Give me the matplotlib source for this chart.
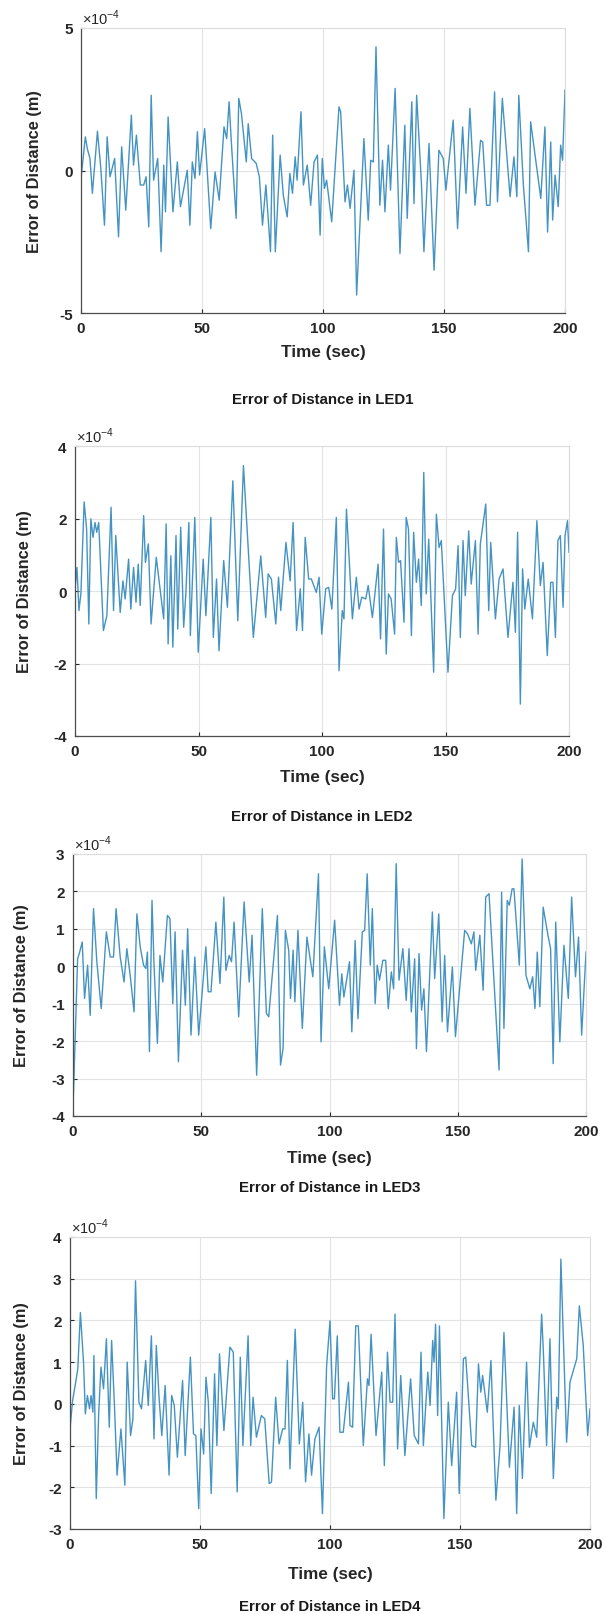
"""Error of distance for LED1..LED4, four stacked panels (MATLAB-like style)."""
import numpy as np
import matplotlib
matplotlib.use("Agg")
import matplotlib.pyplot as plt

plt.rcParams["font.family"] = ["Liberation Sans", "DejaVu Sans"]
plt.rcParams["mathtext.fontset"] = "custom"
plt.rcParams["mathtext.rm"] = "Liberation Sans"
plt.rcParams["axes.unicode_minus"] = False

W, H, DPI = 603, 1615, 100
LINE = "#4593c2"

# values are in units of 1e-4 m (axis shows x10^-4)
t_led1 = [0, 1.8, 2.6, 3.7, 4.7, 6.8, 8.2, 9.7, 10.8, 12, 13.9, 15.5, 16.8, 18.5, 20.8, 21.7, 22.9,
          24.5, 25.9, 26.9, 28, 29, 30, 31.7, 33.1, 34.2, 34.9, 36, 38, 39.8, 41.1, 43.9, 45, 46,
          47.1, 48.1, 49, 51.1, 53.6, 55.4, 57.1, 59.1, 60.2, 61.2, 62.2, 64.1, 65.2, 66.3, 68.3,
          69.1, 70.5, 72.4, 73.7, 75, 76.4, 78.3, 79.2, 80.3, 82.3, 83.6, 85.2, 86.3, 87.4, 88.5,
          89.3, 90.9, 91.9, 93.5, 94.9, 96.3, 97.7, 98.8, 99.7, 100.6, 101.5, 103.6, 106.6, 107.3,
          109.1, 110.1, 111.2, 112.8, 113.9, 116.9, 118.7, 119.7, 120.8, 121.9, 123.5, 124.6, 125.6,
          127, 127.9, 129.8, 131.8, 133.8, 134.8, 136.7, 137.6, 138.7, 140.7, 141.7, 143.8, 145.9,
          147.9, 149.7, 150.8, 153.8, 155.6, 157.7, 159.1, 160.7, 162.8, 165.1, 166, 167.6, 169,
          170.9, 172.1, 174.1, 177.3, 178.9, 180.1, 180.9, 182.8, 184.9, 185.8, 190, 191.7, 192.8,
          194.1, 194.9, 195.9, 197.2, 198.2, 199, 200]
e_led1 = [-0.28, 1.18, 0.77, 0.42, -0.8, 1.38, 0.07, -1.92, 1.18, -0.22, 0.42, -2.33, 0.83, -1.39,
          1.94, 0.19, 1.24, -0.51, -0.51, -0.22, -1.98, 2.64, -0.34, 0.42, -2.85, 0.19, -1.45, 1.88,
          -1.45, 0.30, -1.27, 0.01, -1.92, 0.30, -0.28, 1.36, -0.16, 1.47, -2.04, -0.05, -1.04, 1.53,
          1.12, 2.41, 0.89, -1.68, 2.53, 2.0, 0.30, 1.64, 0.42, 0.25, -0.22, -1.92, -0.51, -2.85,
          1.24, -2.85, 0.54, -0.87, -1.63, -0.1, -0.8, 0.48, -0.34, 2.06, -0.51, 0.19, -1.22, 0.3,
          0.54, -2.27, 0.42, -0.63, -0.34, -1.80, 2.23, 2.06, -1.10, -0.51, -1.33, 0.01, -4.37,
          1.12, -1.74, 0.36, 0.30, 4.34, -1.22, 0.36, -1.45, 0.89, -0.69, 2.88, -2.91, 1.59, -1.68,
          2.41, -1.16, 2.64, -0.51, -2.85, 0.95, -3.50, 0.71, 0.42, -0.69, 1.77, -2.04, 1.53, -0.8,
          2.18, -1.22, 1.06, 1.0, -1.22, -1.22, 2.76, -1.10, 2.53, -0.92, 0.48, -0.92, 2.64, -0.51,
          -2.85, 1.71, -0.98, 1.53, -2.16, 1.0, -1.74, -0.16, -1.27, 0.89, 0.36, 2.82]

t_led2 = [0, 0.8, 1.6, 2.4, 3.7, 4.7, 5.6, 6.4, 7.3, 8.1, 8.8, 9.6, 11.5, 12.9, 14.6, 15.6, 16.5,
          18.3, 19.4, 20.3, 21.7, 22.6, 23.7, 24.7, 25.6, 26.4, 27.8, 28.5, 29.7, 30.8, 32.9, 35.9,
          36.9, 37.7, 38.8, 39.6, 40.9, 41.6, 42.8, 44, 44.9, 46.1, 46.7, 48.5, 49.9, 51.9, 53, 55,
          56, 57.3, 58.3, 60.2, 61.7, 63.9, 65.9, 68.2, 72.2, 75.2, 77.2, 78.2, 79.5, 81.3, 82.4,
          83.3, 85.4, 87.1, 88.3, 89.7, 91.2, 92.1, 93.2, 94.6, 95.7, 97.7, 98.8, 99.9, 101.5, 102.7,
          104, 105.8, 106.9, 108.2, 108.9, 109.9, 112.3, 113.9, 115, 116.1, 117.7, 118.7, 120.4,
          122.7, 123.7, 124.9, 126, 126.9, 128, 129.4, 130.1, 131, 131.8, 133.2, 134.1, 135, 136.2,
          137.1, 138.2, 139.1, 140.2, 141.2, 142.2, 143.2, 145.2, 146.3, 147.4, 148.3, 151, 152.8,
          154.1, 155.1, 156, 157.1, 158, 159.4, 160.4, 162.1, 163.2, 164.1, 166.3, 167.5, 168.3,
          170.2, 171.7, 173.3, 175.3, 177.3, 178.3, 179.2, 180.3, 181.2, 182.1, 183.5, 185.2, 187,
          188.4, 189.5, 191.2, 192.6, 193.5, 194.5, 195.5, 196.5, 197.6, 198.4, 199.4, 200]
e_led2 = [0.05, 0.65, -0.54, -0.06, 2.46, 1.71, -0.91, 1.99, 1.48, 1.89, 1.62, 1.89, -1.09, -0.68,
          2.31, -0.54, 1.53, -0.59, 0.28, -0.22, 0.88, -0.50, 0.65, -0.31, 0.74, -0.40, 2.08, 0.79,
          1.30, -0.91, 0.93, -0.77, 1.85, -1.46, 0.97, -1.55, 1.53, -1.05, 1.76, -1.0, -0.04, 1.89,
          -1.23, 2.03, -1.69, 0.88, -0.68, 2.03, -1.28, 0.33, -1.65, 0.84, -0.45, 3.04, -0.82, 3.46,
          -1.28, 0.97, -0.73, 0.47, 0.33, -0.91, 0.38, -0.54, 1.34, 0.28, 1.89, -1.09, 0.06, -1.09,
          1.48, 0.33, 0.33, -0.04, 0.38, -1.19, 0.06, 0.10, -0.50, 2.03, -2.20, -0.54, -0.77, 2.26,
          -0.77, 0.38, -0.50, -0.17, -0.22, 0.15, -0.73, 0.74, -1.32, 1.71, -1.74, -0.08, -0.22,
          -1.19, 1.48, 0.79, 0.84, -0.86, 2.03, 1.71, -1.23, 1.62, 0.24, 0.88, -0.40, 3.27, -0.08,
          1.43, -2.24, 2.12, 1.20, 1.39, -2.24, -0.13, 0.06, 1.25, -1.28, 1.39, -0.13, 1.66, 0.19,
          1.39, -1.19, 1.30, 2.40, -0.54, 1.34, -0.77, 0.33, 0.61, -1.28, 0.24, -1.14, 1.62, -3.12,
          0.61, -0.50, 0.33, -0.77, 1.94, 0.15, 0.79, -1.78, 0.24, 0.24, -1.28, 1.39, 1.53, -0.45,
          1.53, 1.94, 1.07]

t_led3 = [0, 1.8, 2.6, 3.6, 4.5, 5.7, 6.7, 8, 9.3, 11, 13, 14.5, 15.8, 16.8, 18.4, 19.9, 21, 22.3,
          23.8, 24.9, 26.2, 27.5, 28.4, 29, 29.8, 30.8, 31.6, 32.9, 33.9, 35, 36.8, 37.8, 38.9, 39.8,
          41.1, 42.7, 43.8, 44.7, 46, 47.5, 49, 51.8, 52.7, 53.8, 55.7, 57.3, 58.8, 59.6, 60.9, 61.8,
          62.8, 64.6, 66.7, 68.7, 69.8, 71.6, 73.8, 75.4, 76.3, 79.7, 80.9, 81.9, 82.8, 84.1, 84.8,
          85.8, 86.5, 87.7, 89.4, 91.2, 93.5, 95.7, 96.7, 98, 99.7, 102, 103.9, 104.8, 105.6, 107.8,
          108.7, 110, 111.1, 112.8, 113.7, 114.7, 115.9, 116.7, 117.8, 118.6, 119.5, 120.8, 121.9,
          122.9, 124.1, 125, 126, 127.1, 128.6, 129.9, 131, 131.9, 133.2, 133.9, 134.9, 135.9, 136.8,
          137.8, 140.1, 141, 142.6, 143.9, 144.9, 146, 147.9, 149.1, 152.7, 153.8, 155.3, 156.3,
          157, 158.6, 159.9, 160.9, 162.2, 166.1, 167.1, 168, 169.3, 170.1, 171.2, 171.9, 174,
          175.1, 176.6, 178.1, 179.2, 180.1, 181, 182, 183.3, 185.3, 186.2, 187.2, 188.2, 189.8,
          191.4, 193.1, 194.4, 195.9, 197.1, 198.3, 200]
e_led3 = [-3.80, 0.2, 0.38, 0.65, -0.86, 0.03, -1.31, 1.54, 0.12, -1.13, 0.92, 0.25, 0.25, 1.54,
          0.25, -0.42, 0.47, -0.24, -1.22, 1.40, 0.52, 0.03, -0.06, 0.38, -2.28, 1.76, 0.03, -2.06,
          0.29, -0.42, 1.36, 1.27, -1.0, 0.92, -2.55, 0.43, -1.04, 1.0, -1.84, 0.25, -1.84, 0.52,
          -0.68, -0.68, 1.18, -0.46, 1.85, -0.11, 0.29, 0.12, 1.18, -1.35, 1.72, -0.42, 0.83, -2.91,
          1.54, -1.26, -1.35, 1.36, -2.64, -2.20, 0.96, 0.43, -0.86, 0.43, -0.95, 0.96, -1.66, 0.78,
          -0.28, 2.47, -2.02, 0.52, -0.60, 1.23, -1.04, -0.20, -0.82, 0.12, -1.75, 0.69, -1.40,
          0.92, 0.96, 2.47, 0.03, 1.54, -1.0, 0.03, -0.37, 0.16, 0.16, -1.13, -0.15, -0.60, 2.74,
          -0.37, 0.47, -0.91, 0.47, -1.22, 0.20, -2.20, 0.34, -1.17, -0.6, -2.28, 1.45, -0.33, 1.40,
          -1.48, 0.29, -1.75, -0.02, -1.88, 0.96, 0.87, 0.60, 0.92, -0.11, 0.83, -0.64, 1.85, 1.94,
          -2.77, 1.98, -1.66, 1.76, 1.63, 2.07, 2.07, 0.03, 2.87, -0.24, -0.60, -0.28, -1.13, 0.38,
          -1.08, 1.58, 0.78, 0.47, -2.60, 1.18, -2.02, 0.56, -0.86, 1.85, -0.28, 0.78, -1.84, 0.38]

t_led4 = [0, 1, 2.3, 3, 4, 5.2, 5.9, 6.7, 7.5, 8.1, 8.8, 9.2, 10.1, 11, 11.9, 12.9, 14, 15.1, 16,
          17.1, 18.1, 19.6, 21.1, 22, 23.3, 24.2, 25.2, 26.5, 27.5, 29.1, 30.1, 31.3, 32.3, 33.2,
          34.2, 35.3, 36.6, 38.1, 39.1, 40.1, 41.3, 43.3, 44.3, 46.3, 47.5, 48.4, 49.5, 50.4, 51.4,
          52.3, 53.2, 54.3, 55.6, 56.5, 57.5, 59.2, 61.5, 62.8, 64.3, 65.5, 66.5, 68.5, 69.5, 70.4,
          71.7, 73.6, 74.9, 76.6, 77.5, 79.1, 80.4, 81.8, 82.7, 83.6, 84.6, 86.6, 88.2, 89.5, 90.6,
          91.9, 92.9, 94.2, 95.8, 97.1, 98.7, 100, 101, 101.7, 102.8, 103.8, 105.1, 107.1, 107.7,
          108.7, 109.9, 110.9, 112.8, 114.4, 115, 115.8, 117.7, 119.9, 120.9, 122.1, 123.1, 124.1,
          125, 126, 127.2, 128.8, 131, 132.4, 134, 135, 135.9, 137.6, 138.5, 139.5, 140, 140.6,
          141.4, 142.1, 143.8, 145.5, 146.8, 148.7, 149.7, 151.3, 152.2, 154.5, 156, 157.1, 158,
          158.7, 160.5, 161.9, 163.8, 165.4, 166.9, 169, 170.8, 171.8, 172.8, 174, 175.6, 176.7,
          178.2, 179.5, 181.4, 182.1, 183.3, 184.6, 185.9, 187.2, 187.8, 188.8, 191, 192.3, 194.9,
          195.9, 197.4, 199.1, 200]
e_led4 = [-0.60, 0.08, 0.56, 0.84, 2.19, 1.0, -0.24, 0.2, -0.12, 0.2, -0.2, 1.16, -2.27, -0.28,
          0.88, 0.36, 1.56, -0.56, 1.52, -0.04, -1.71, -0.60, -1.95, 1.0, -0.76, -0.36, 2.95, 0.04,
          -0.12, 1.04, -0.04, 1.63, -0.84, 1.40, 0.2, -0.76, 0.44, -1.71, 0.2, -0.04, -1.28, 0.56,
          -1.24, 1.12, -0.72, -0.76, -2.51, -0.60, -1.20, 0.64, 0.04, -2.15, 0.72, -1.0, 1.20,
          -0.64, 1.36, 1.24, -2.11, 1.12, -1.0, 1.63, -1.0, 0.16, -0.80, -0.28, -0.36, -1.91, -1.87,
          0.16, -0.96, -0.60, -0.60, 1.04, -1.56, 1.79, -0.96, 0.04, -1.87, -0.72, -1.71, -0.84,
          -0.56, -2.63, 0.92, 1.99, 0.12, 0.12, 1.63, -0.68, -0.68, 0.52, -0.52, -0.56, 1.87, 1.87,
          -1.0, 0.60, 0.44, 1.67, -0.76, 0.76, -1.48, 1.24, 0.04, 0.04, 2.15, -1.08, 0.68, -1.24,
          0.60, -0.76, -0.96, 1.24, -1.0, 0.76, -0.04, 1.52, 1.0, 1.91, -0.28, 1.87, -2.75, 0.04,
          -1.48, 0.28, -2.15, 1.08, 1.12, -1.0, -1.04, 0.96, 0.28, 0.68, -0.20, 1.04, -2.31, -1.0,
          1.71, -1.52, -0.08, -2.63, -0.04, -1.79, 1.0, -1.04, -0.44, -0.80, 2.15, 1.20, -1.0, 1.56,
          -1.79, 0.16, -0.12, 3.47, -0.92, 0.52, 1.08, 2.35, 1.40, -0.76, -0.12]

y_ticks_led1 = [-5, 0, 5]
y_ticks_led2 = [-4, -2, 0, 2, 4]
y_ticks_led3 = [-4, -3, -2, -1, 0, 1, 2, 3]
y_ticks_led4 = [-3, -2, -1, 0, 1, 2, 3, 4]
x_ticks = [0, 50, 100, 150, 200]
titles = ["Error of Distance in LED1", "Error of Distance in LED2",
          "Error of Distance in LED3", "Error of Distance in LED4"]

# layout in pixels: axes box (left, top, right, bottom), ylabel x, xlabel y, caption y
LAYOUT = [
    ((81, 29, 565, 314), 35, 352, 400),
    ((75, 447, 569, 737), 25, 778, 817),
    ((73, 855, 586, 1117), 22, 1158, 1188),
    ((70, 1238, 590, 1530), 22, 1575, 1607),
]


def draw_panel(fig, box, ylab_x, xlab_y, cap_y, t, e, yticks, title):
    l, top, r, b = box
    ax = fig.add_axes([l / W, 1 - b / H, (r - l) / W, (b - top) / H])
    ax.plot(t, e, color=LINE, lw=1.0)
    ax.set_xlim(0, 200)
    ax.set_ylim(yticks[0], yticks[-1])
    ax.set_xticks(x_ticks)
    ax.set_yticks(yticks)
    ax.grid(True, color="#e3e3e3", lw=0.8)
    ax.set_axisbelow(True)
    ax.tick_params(direction="in", length=3, width=0.8, colors="#262626",
                   labelsize=11, pad=6)
    for lab in ax.get_xticklabels() + ax.get_yticklabels():
        lab.set_fontweight("bold")
    for s in ("left", "bottom"):
        ax.spines[s].set_color("#4d4d4d")
        ax.spines[s].set_linewidth(0.9)
    for s in ("top", "right"):
        ax.spines[s].set_color("#dcdcdc")
        ax.spines[s].set_linewidth(0.8)
    ax.annotate(r"$\times10^{-4}$", xy=(0, 1), xycoords="axes fraction",
                xytext=(1, 1), textcoords="offset points", ha="left", va="bottom",
                fontsize=10.5, color="#262626")
    cx = (l + r) / 2 / W
    fig.text(ylab_x / W, 1 - (top + b) / 2 / H, "Error of Distance (m)", rotation=90,
             ha="center", va="center", fontsize=11.8, fontweight="bold", color="#262626")
    fig.text(cx, 1 - xlab_y / H, "Time (sec)", ha="center", va="center",
             fontsize=12.3, fontweight="bold", color="#262626")
    fig.text(cx, 1 - cap_y / H, title, ha="center", va="center",
             fontsize=10.8, fontweight="bold", color="#1a1a1a")
    return ax


def main():
    fig = plt.figure(figsize=(W / DPI, H / DPI), dpi=DPI)
    series = [(t_led1, e_led1, y_ticks_led1), (t_led2, e_led2, y_ticks_led2),
              (t_led3, e_led3, y_ticks_led3), (t_led4, e_led4, y_ticks_led4)]
    for (box, ylx, xly, capy), (t, e, yt), title in zip(LAYOUT, series, titles):
        draw_panel(fig, box, ylx, xly, capy, np.array(t), np.array(e), yt, title)
    fig.savefig("out.png", dpi=DPI)


if __name__ == "__main__":
    main()
